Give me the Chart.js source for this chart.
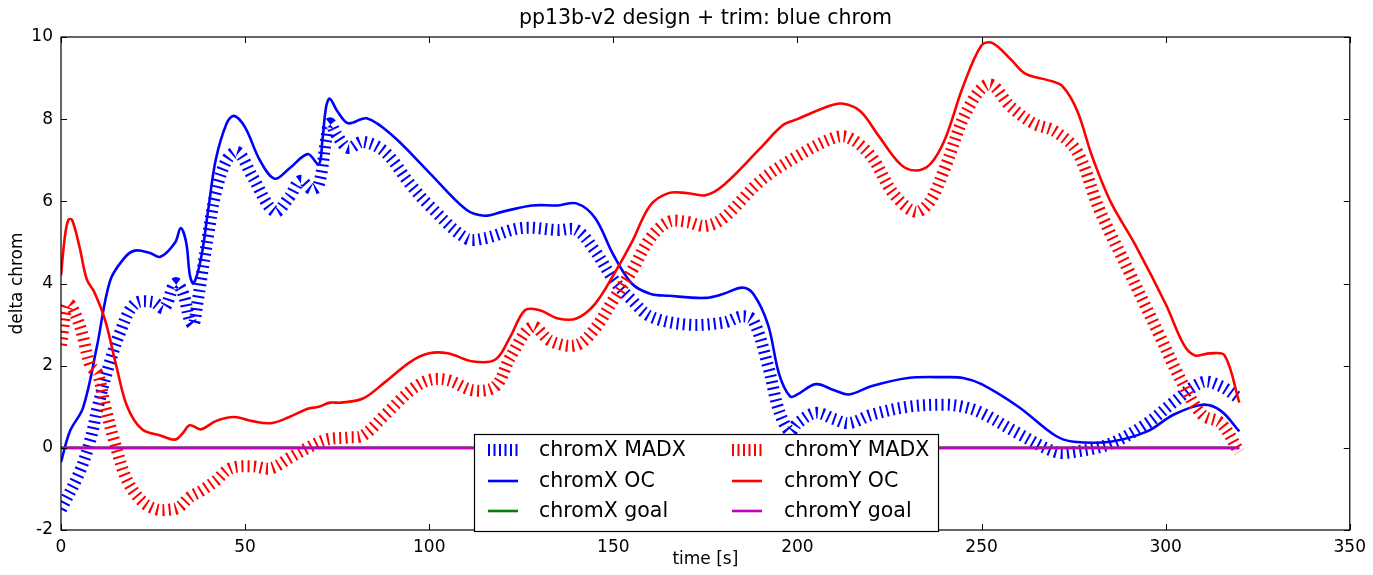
<!DOCTYPE html>
<html><head><meta charset="utf-8">
<script src="https://cdn.jsdelivr.net/npm/chart.js@4/dist/chart.umd.min.js"></script>
<style>html,body{margin:0;padding:0;background:#fff}#wrap{width:1373px;height:575px}</style>
</head><body><div id="wrap"><canvas id="c" width="1373" height="575"></canvas></div>
<script>
const chartTitle = "pp13b-v2 design + trim: blue chrom";
const xLabel = "time [s]";
const yLabel = "delta chrom";
const xTicks = [0,50,100,150,200,250,300,350];
const yTicks = [-2,0,2,4,6,8,10];

const xMadxT = [0,5,8,10,13,16,20,25,28,31,33,35,36,37,40,42,45,48,52,58,62,65,68,70,72,73,75,78,82,88,95,100,110,115,125,135,140,145,150,155,160,170,180,185,188,192,195,198,200,205,210,214,220,230,240,245,250,260,270,275,285,295,302,310,315,320];
const xMadxV = [-1.5,-0.6,0.2,1.0,2.0,2.8,3.5,3.55,3.4,4.0,3.8,3.1,3.0,3.5,5.2,6.2,7.0,7.2,6.6,5.75,6.1,6.5,6.3,6.4,7.5,7.9,7.6,7.3,7.45,7.2,6.4,5.9,5.1,5.1,5.35,5.3,5.3,4.8,4.1,3.6,3.2,3.0,3.05,3.2,3.1,2.0,0.9,0.4,0.6,0.85,0.7,0.6,0.8,1.0,1.05,1.0,0.85,0.35,-0.1,-0.1,0.1,0.6,1.1,1.6,1.5,1.2];

const xOcT = [0,2.4,6,9.7,13.3,17,20,24,27,31,32.5,34,35,36,38,40,42,45,47,50,54,58,62,67,70,71,72,73,75,78,83,90,100,110,115,120,128,135,140,145,150,155,160,165,175,180,185,188,192,195,198,200,205,210,214,220,230,240,245,250,260,270,275,285,295,302,310,315,320];
const xOcV = [-0.35,0.4,0.98,2.44,4.06,4.6,4.8,4.75,4.65,5.0,5.35,5.0,4.2,4.0,4.6,5.8,7.0,7.9,8.08,7.8,7.0,6.55,6.8,7.15,6.9,7.5,8.3,8.5,8.2,7.9,8.02,7.6,6.7,5.8,5.65,5.75,5.9,5.9,5.95,5.6,4.7,4.0,3.75,3.7,3.65,3.75,3.9,3.75,3.0,1.8,1.25,1.3,1.55,1.4,1.3,1.5,1.7,1.72,1.7,1.55,1.0,0.3,0.15,0.15,0.4,0.8,1.05,0.9,0.4];

const goalT = [0,320];
const xGoalV = [0,0];
const yGoalV = [0,0];

const yMadxT = [0,2,5,8,10,12,15,18,22,26,30,32,35,38,42,46,52,57,62,67,72,78,82,88,95,100,105,112,118,122,128,133,140,145,150,155,160,165,170,175,180,190,200,210,214,220,226,232,236,240,246,252,258,264,270,276,282,290,298,305,310,315,320];
const yMadxV = [2.5,3.5,3.0,2.0,1.8,1.0,0.0,-0.8,-1.3,-1.5,-1.5,-1.45,-1.2,-1.05,-0.8,-0.5,-0.45,-0.5,-0.25,0.0,0.2,0.25,0.3,0.8,1.4,1.65,1.65,1.4,1.5,2.2,2.95,2.6,2.5,2.9,3.6,4.3,5.1,5.5,5.5,5.4,5.6,6.5,7.1,7.55,7.55,7.1,6.2,5.75,6.0,6.8,8.2,8.85,8.3,7.9,7.7,7.2,5.8,4.3,2.8,1.5,0.8,0.6,-0.1];

const yOcT = [0,1,2,3,5,7,9,12,15,18,22,27,31,33,35,38,42,47,52,57,62,67,70,73,76,82,88,95,100,105,112,118,122,126,130,135,140,145,150,155,160,165,170,175,180,190,196,200,208,212,217,222,228,232,236,240,245,250,253,258,262,268,272,276,280,285,292,300,305,308,312,316,320];
const yOcV = [4.2,5.1,5.55,5.55,4.9,4.1,3.8,3.1,2.0,1.0,0.45,0.3,0.2,0.35,0.55,0.45,0.65,0.75,0.65,0.6,0.75,0.95,1.0,1.1,1.1,1.2,1.6,2.1,2.3,2.3,2.1,2.15,2.7,3.35,3.35,3.15,3.15,3.5,4.2,5.0,5.9,6.2,6.2,6.15,6.4,7.3,7.85,8.0,8.3,8.38,8.2,7.6,6.9,6.75,6.9,7.5,8.8,9.8,9.85,9.45,9.1,8.95,8.8,8.2,7.1,6.0,4.9,3.5,2.5,2.25,2.3,2.25,1.1];

const seriesNames = ["chromX MADX","chromX OC","chromX goal","chromY MADX","chromY OC","chromY goal"];
const seriesColors = ["#0000ff","#0000ff","#008000","#ff0000","#ff0000","#bf00bf"];

function pts(t,v){return t.map((x,i)=>({x:x,y:v[i]}));}

const FONT = "'DejaVu Sans', sans-serif";
const L = 61, R = 1353, T = 37, B = 530;

const hatch = {borderWidth:12, borderDash:[2,4.2], tension:0.35};
const solid = {borderWidth:2.6, tension:0.35};

const datasets = [
  Object.assign({label:seriesNames[0], data:pts(xMadxT,xMadxV), borderColor:seriesColors[0], order:6}, hatch),
  Object.assign({label:seriesNames[1], data:pts(xOcT,xOcV), borderColor:seriesColors[1], order:5}, solid),
  Object.assign({label:seriesNames[2], data:pts(goalT,xGoalV), borderColor:seriesColors[2], order:4}, solid),
  Object.assign({label:seriesNames[3], data:pts(yMadxT,yMadxV), borderColor:seriesColors[3], order:3}, hatch),
  Object.assign({label:seriesNames[4], data:pts(yOcT,yOcV), borderColor:seriesColors[4], order:2}, solid),
  Object.assign({label:seriesNames[5], data:pts(goalT,yGoalV), borderColor:seriesColors[5], order:1}, solid),
];
datasets.forEach(d=>{d.pointRadius=0;d.fill=false;d.borderCapStyle='butt';d.borderJoinStyle='round';});

const deco = {
  id:'deco',
  afterDatasetsDraw(chart){
    const ctx = chart.ctx, ca = chart.chartArea;
    const xs = chart.scales.x, ys = chart.scales.y;
    ctx.save();
    ctx.strokeStyle = '#000'; ctx.lineWidth = 1.2;
    ctx.strokeRect(ca.left, ca.top, ca.right-ca.left, ca.bottom-ca.top);
    ctx.lineWidth = 1;
    xTicks.forEach(v=>{
      const p = Math.round(xs.getPixelForValue(v))+0.5;
      ctx.beginPath(); ctx.moveTo(p,ca.bottom); ctx.lineTo(p,ca.bottom-6);
      ctx.moveTo(p,ca.top); ctx.lineTo(p,ca.top+6); ctx.stroke();
    });
    yTicks.forEach(v=>{
      const p = Math.round(ys.getPixelForValue(v))+0.5;
      ctx.beginPath(); ctx.moveTo(ca.left,p); ctx.lineTo(ca.left+6,p);
      ctx.moveTo(ca.right,p); ctx.lineTo(ca.right-6,p); ctx.stroke();
    });
    ctx.fillStyle = '#000';
    ctx.font = "20.5px " + FONT; ctx.textAlign='center'; ctx.textBaseline='middle';
    ctx.fillText(chartTitle, (ca.left+ca.right)/2, 19);
    ctx.font = "17px " + FONT;
    ctx.fillText(xLabel, (ca.left+ca.right)/2, 560);
    ctx.save(); ctx.translate(18,(ca.top+ca.bottom)/2); ctx.rotate(-Math.PI/2);
    ctx.fillText(yLabel,0,0); ctx.restore();
    const bx=474, by=434, bw=464, bh=97;
    ctx.fillStyle='#fff'; ctx.fillRect(bx,by,bw,bh);
    ctx.strokeStyle='#000'; ctx.lineWidth=1.2; ctx.strokeRect(bx+0.5,by+0.5,bw,bh);
    const cols=[[488,539],[732,784]]; const rows=[450,481,511];
    ctx.font="20.5px "+FONT; ctx.textAlign='left'; ctx.textBaseline='middle';
    chart.data.datasets.forEach((d,i)=>{
      const c=Math.floor(i/3), r=i%3;
      const hx=cols[c][0], tx=cols[c][1], y=rows[r];
      ctx.strokeStyle=d.borderColor;
      if(d.borderWidth>6){
        ctx.lineWidth=2;
        for(let k=0;k<6;k++){const x=hx+1+k*5.5;ctx.beginPath();ctx.moveTo(x,y-6);ctx.lineTo(x,y+6);ctx.stroke();}
      } else {
        ctx.lineWidth=2.6; ctx.beginPath(); ctx.moveTo(hx,y); ctx.lineTo(hx+30,y); ctx.stroke();
      }
      ctx.fillStyle='#000'; ctx.fillText(d.label,tx,y+1);
    });
    ctx.restore();
  }
};

new Chart(document.getElementById('c'),{
  type:'line',
  data:{datasets:datasets},
  options:{
    responsive:false, animation:false,
    layout:{padding:{top:T,right:1373-R,bottom:0,left:0}},
    plugins:{legend:{display:false},title:{display:false},tooltip:{enabled:false}},
    scales:{
      x:{type:'linear',min:0,max:350,
        afterBuildTicks(s){s.ticks=xTicks.map(v=>({value:v}));},
        afterFit(s){s.height=575-B;},
        grid:{display:false,drawTicks:false},border:{display:false},
        ticks:{color:'#000',font:{family:FONT,size:17},padding:7,maxRotation:0}},
      y:{type:'linear',min:-2,max:10,
        afterBuildTicks(s){s.ticks=yTicks.map(v=>({value:v}));},
        afterFit(s){s.width=L;},
        grid:{display:false,drawTicks:false},border:{display:false},
        ticks:{color:'#000',font:{family:FONT,size:17},padding:8}}
    }
  },
  plugins:[deco]
});
</script></body></html>
